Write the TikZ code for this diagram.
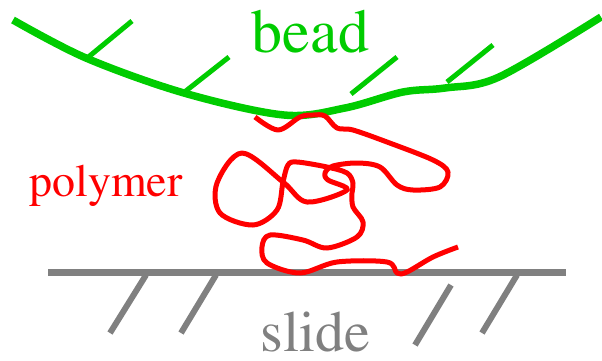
\documentclass[tikz,border=0pt]{standalone}
\usepackage[T1]{fontenc}
\usepackage{times}
\definecolor{beadgreen}{RGB}{0,204,0}
\definecolor{slidegray}{RGB}{128,128,128}
\definecolor{polyred}{RGB}{255,0,0}
\begin{document}
\begin{tikzpicture}[x=1pt,y=-1pt,
  beadline/.style={draw=beadgreen,line width=7.5pt},
  beadtick/.style={draw=beadgreen,line width=5pt},
  slideline/.style={draw=slidegray,line width=7pt},
  slidetick/.style={draw=slidegray,line width=6pt},
  chain/.style={draw=polyred,line width=5pt,line join=round},
  label/.style={anchor=base,inner sep=0pt,text depth=0pt}]
\useasboundingbox (0,0) rectangle (602,360);

% slide surface with hatching
\draw[slideline] (48,272) -- (566,272);
\draw[slidetick] (146,275) -- (110,333);
\draw[slidetick] (216,275) -- (181,333);
\draw[slidetick] (451,285) -- (415,345);
\draw[slidetick] (517,275) -- (482,333);

% bead surface with hatching
\draw[beadline] plot[smooth,tension=0.55] coordinates
  {(13,20) (86,58) (184,93) (284,115) (345,108) (403,92) (445,88) (499,77) (601,17)};
\draw[beadtick] (86,59) -- (132,21);
\draw[beadtick] (182,94) -- (229,57);
\draw[beadtick] (351,94) -- (397,57);
\draw[beadtick] (447,82) -- (493,45);

% polymer chain tethered between bead and slide
\draw[chain] plot[smooth,tension=0.55] coordinates
  {(255,117) (278,130) (300,117) (313,115) (325,116) (337,128) (353,130)
   (387,142) (433,160) (448,172) (440,187) (413,190) (397,185) (380,167)
   (357,163) (333,166) (325,173) (328,180) (347,190) (307,202) (283,182)
   (242,153) (217,183) (220,213) (253,225) (277,210) (283,182) (288,165)
   (297,162) (327,167) (347,173) (353,183) (352,193) (353,207) (363,222)
   (357,237) (327,248) (303,240) (270,235) (262,247) (267,263) (300,273)
   (337,262) (387,262) (397,273) (407,272) (433,257) (458,247)};

% labels
\node[label,text=beadgreen,font=\fontsize{62}{62}\selectfont] (beadlbl) at (310.5,52) {bead};
\node[label,text=polyred,font=\fontsize{46}{46}\selectfont] (polymerlbl) at (106,196) {polymer};
\node[label,text=slidegray,font=\fontsize{58}{58}\selectfont] (slidelbl) at (315.5,351) {slide};
\end{tikzpicture}
\end{document}
